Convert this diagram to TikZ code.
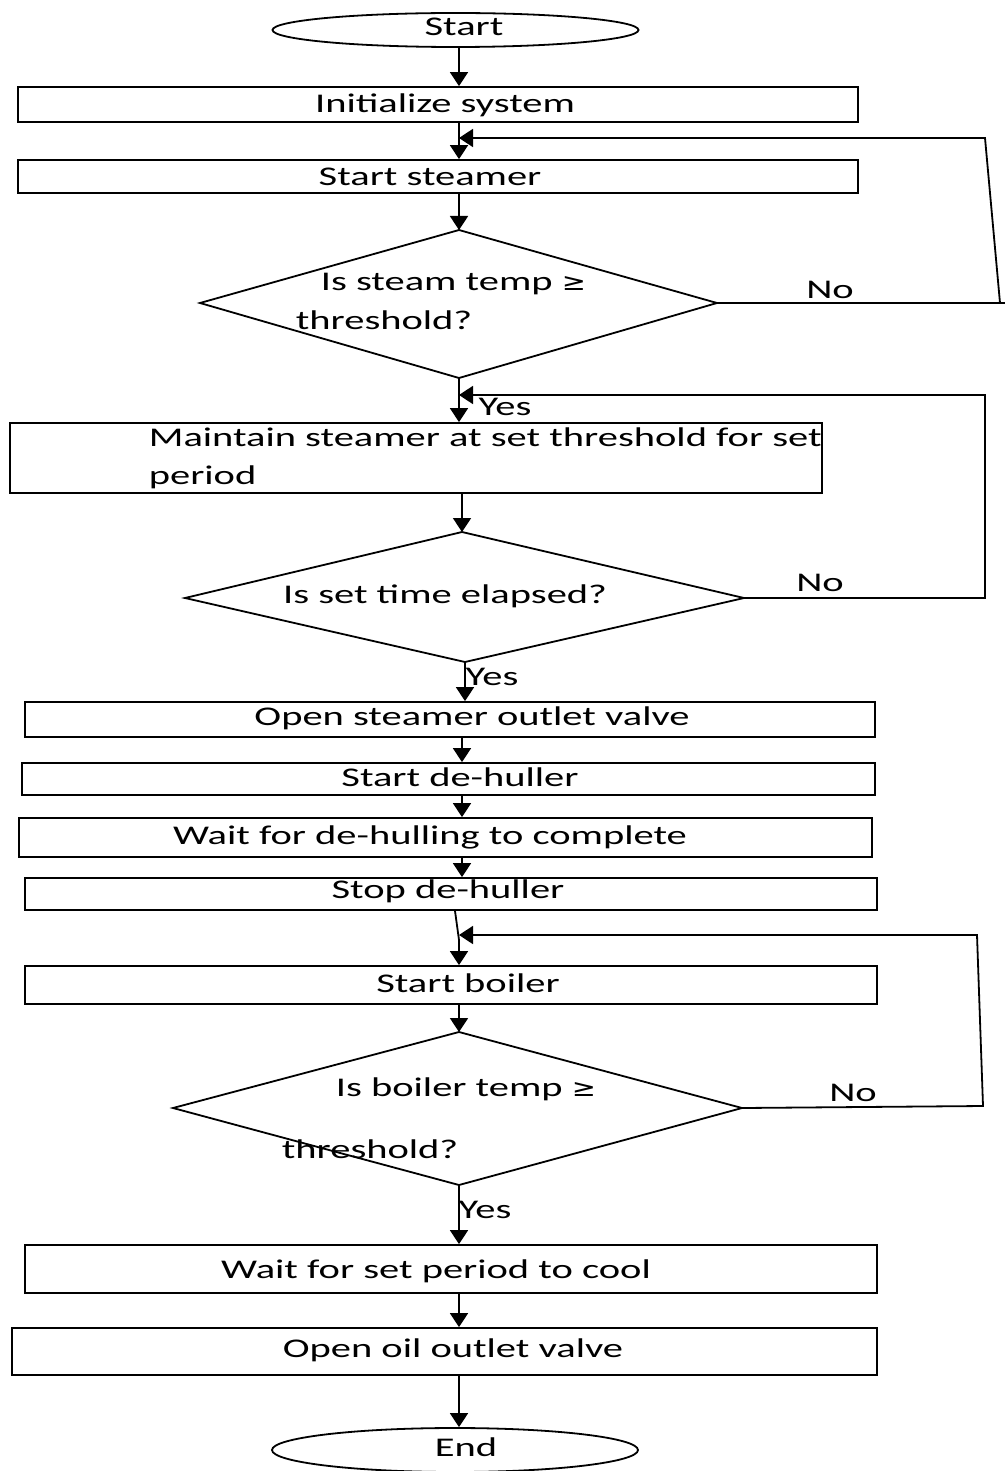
\documentclass[tikz,border=0pt]{standalone}
\usepackage{fontspec}
\newfontfamily\lblfont[FakeStretch=1.5]{Carlito}
\newfontfamily\symfont[FakeStretch=1.2]{DejaVu Sans}
\usetikzlibrary{arrows.meta,shapes.geometric}
\begin{document}
\begin{tikzpicture}[x=0.5pt,y=-0.5pt,
  line width=0.9pt,
  box/.style={draw,rectangle,inner sep=0pt},
  term/.style={draw,ellipse,inner sep=0pt,minimum width=183pt,minimum height=17pt},
  lbl/.style={inner sep=0pt,font=\lblfont\fontsize{13.5pt}{16pt}\selectfont,text height=8.7pt,text depth=0pt},
  arr/.style={-{Triangle[width=9pt,length=7pt]}},
]
\useasboundingbox (0,0) rectangle (1005,1471);
% trunk x positions
\coordinate (xa) at (459,0);
\coordinate (xb) at (462,0);
\coordinate (xc) at (465,0);
\coordinate (xd) at (455,0);
% terminals
\node[term] (start) at (455.5,30) {};
\node[term,minimum height=22pt] (end) at (455,1450) {};
% boxes
\node[box,minimum width=420pt,minimum height=17.5pt] (init) at (438,104.5) {};
\node[box,minimum width=420pt,minimum height=16.5pt] (steam) at (438,176.5) {};
\node[box,minimum width=406pt,minimum height=35pt] (maint) at (416,458) {};
\node[box,minimum width=425pt,minimum height=17.5pt] (openst) at (450,719.5) {};
\node[box,minimum width=426.5pt,minimum height=16pt] (dehull) at (448.5,779) {};
\node[box,minimum width=426.5pt,minimum height=19.5pt] (waitdh) at (445.5,837.5) {};
\node[box,minimum width=426pt,minimum height=16pt] (stopdh) at (451,894) {};
\node[box,minimum width=426pt,minimum height=19pt] (boiler) at (451,985) {};
\node[box,minimum width=426pt,minimum height=24pt] (cool) at (451,1269) {};
\node[box,minimum width=432.5pt,minimum height=23.5pt] (oil) at (444.5,1351.5) {};
% diamonds
\coordinate (d1t) at (459,230); \coordinate (d1r) at (717,303);
\coordinate (d1b) at (459,378); \coordinate (d1l) at (200,303);
\draw (d1t) -- (d1r) -- (d1b) -- (d1l) -- cycle;
\coordinate (d2t) at (462,532); \coordinate (d2r) at (744,598);
\coordinate (d2b) at (465,662); \coordinate (d2l) at (185,598);
\draw (d2t) -- (d2r) -- (d2b) -- (d2l) -- cycle;
\coordinate (d3t) at (459,1032); \coordinate (d3r) at (742,1108);
\coordinate (d3b) at (459,1185); \coordinate (d3l) at (173,1108);
\draw (d3t) -- (d3r) -- (d3b) -- (d3l) -- cycle;
% texts
\node[lbl] (tstart) at (464,27) {Start};
\node[lbl] (tinit) at (445,103.5) {Initialize system};
\node[lbl] (tsteam) at (430,176.5) {Start steamer};
\node[lbl,anchor=west] (tq1a) at (320,282) {Is steam temp {\symfont\fontsize{12pt}{14pt}\selectfont ≥}};
\node[lbl,anchor=west] (tq1b) at (295,321) {threshold?};
\node[lbl,anchor=west] (tmaint1) at (148,438) {Maintain steamer at set threshold for set};
\node[lbl,anchor=west] (tmaint2) at (148,476) {period};
\node[lbl] (tq2) at (445,595) {Is set time elapsed?};
\node[lbl] (topenst) at (472,717) {Open steamer outlet valve};
\node[lbl] (tdehull) at (460,778) {Start de-huller};
\node[lbl] (twaitdh) at (430,836) {Wait for de-hulling to complete};
\node[lbl] (tstopdh) at (448,890) {Stop de-huller};
\node[lbl] (tboiler) at (468,984) {Start boiler};
\node[lbl,anchor=west] (tq3a) at (335,1088) {Is boiler temp {\symfont\fontsize{12pt}{14pt}\selectfont ≥}};
\node[lbl,anchor=west] (tq3b) at (281,1150) {threshold?};
\node[lbl] (tcool) at (436,1270) {Wait for set period to cool};
\node[lbl] (toil) at (453,1349) {Open oil outlet valve};
\node[lbl] (tend) at (466,1448) {End};
\node[lbl] (no1) at (830,290) {No};
\node[lbl] (yes1) at (505,407) {Yes};
\node[lbl] (no2) at (820,583) {No};
\node[lbl] (yes2) at (492,677) {Yes};
\node[lbl] (no3) at (853,1093) {No};
\node[lbl] (yes3) at (485,1210) {Yes};
% main flow
\draw[arr] (start.south -| xa) -- (init.north -| xa);
\draw[arr] (init.south -| xa) -- (steam.north -| xa);
\draw[arr] (steam.south -| xa) -- (d1t);
\draw[arr] (d1b) -- (maint.north -| xa);
\draw[arr] (maint.south -| xb) -- (d2t);
\draw[arr] (d2b) -- (openst.north -| xc);
\draw[arr] (openst.south -| xb) -- (dehull.north -| xb);
\draw[arr] (dehull.south -| xb) -- (waitdh.north -| xb);
\draw[arr] (waitdh.south -| xb) -- (stopdh.north -| xb);
\coordinate (sbk) at (459,940);
\draw[arr] (stopdh.south -| xd) -- (sbk) -- (boiler.north -| xa);
\draw[arr] (boiler.south -| xa) -- (d3t);
\draw[arr] (d3b) -- (cool.north -| xa);
\draw[arr] (cool.south -| xa) -- (oil.north -| xa);
\draw[arr] (oil.south -| xa) -- (end.north -| xa);
% loops
\coordinate (l1a) at (1000,303); \coordinate (l1b) at (985,138);
\coordinate (l1c) at (459,138); \coordinate (l1e) at (1005,303);
\draw (l1a) -- (l1e);
\draw[arr] (d1r) -- (l1a) -- (l1b) -- (l1c);
\coordinate (l2a) at (985,598); \coordinate (l2b) at (985,395);
\coordinate (l2c) at (459,395);
\draw[arr] (d2r) -- (l2a) -- (l2b) -- (l2c);
\coordinate (l3a) at (983,1106); \coordinate (l3b) at (977,935);
\coordinate (l3c) at (459,935);
\draw[arr] (d3r) -- (l3a) -- (l3b) -- (l3c);
\end{tikzpicture}
\end{document}
